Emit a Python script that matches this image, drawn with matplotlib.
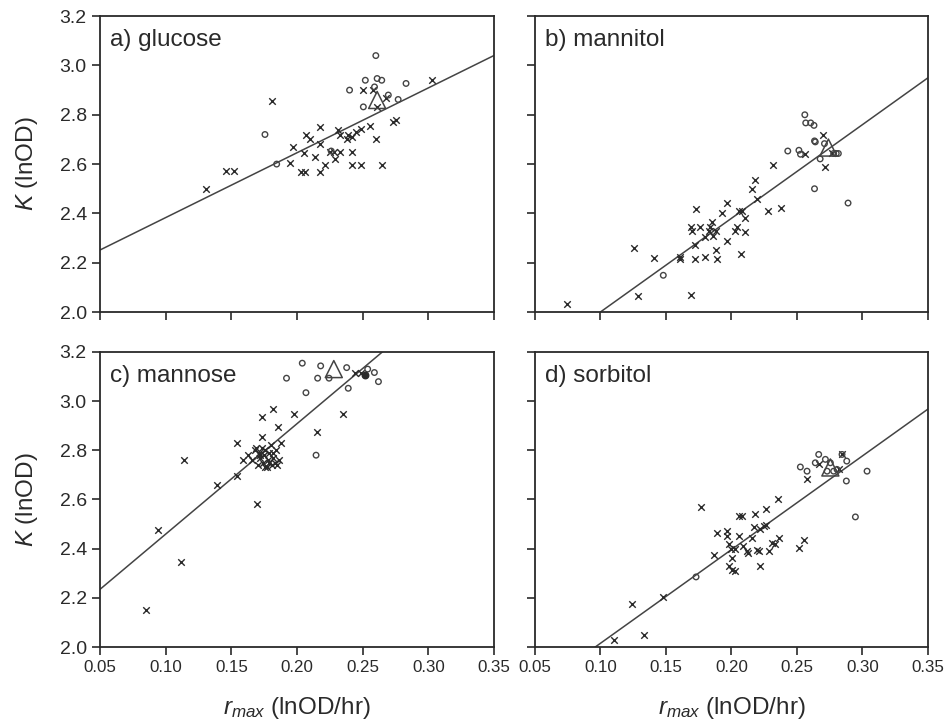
import numpy as np
import matplotlib
matplotlib.use('Agg')
import matplotlib.pyplot as plt

plt.rcParams['font.family'] = ['Liberation Sans', 'DejaVu Sans']
plt.rcParams['mathtext.fontset'] = 'custom'
plt.rcParams['mathtext.it'] = 'Liberation Sans:italic'
plt.rcParams['mathtext.rm'] = 'Liberation Sans'

panel_titles = ['a) glucose', 'b) mannitol', 'c) mannose', 'd) sorbitol']
x_ticks = [0.05, 0.10, 0.15, 0.20, 0.25, 0.30, 0.35]
y_ticks = [2.0, 2.2, 2.4, 2.6, 2.8, 3.0, 3.2]

# fitted line per panel: (intercept at r=0, slope)
fit_lines = [(2.12, 2.63), (1.62, 3.80), (2.01, 4.49), (1.634, 3.81)]

# a) glucose
glu_cross_r = [0.131, 0.146, 0.152, 0.181, 0.197, 0.195, 0.203, 0.206, 0.207, 0.210,
               0.205, 0.214, 0.2175, 0.2175, 0.2175, 0.221, 0.225, 0.228, 0.229, 0.231,
               0.233, 0.233, 0.239, 0.242, 0.242, 0.242, 0.249, 0.249, 0.2556, 0.260,
               0.265, 0.273, 0.275, 0.3025, 0.2505, 0.258, 0.261, 0.268, 0.245, 0.238]
glu_cross_k = [2.50, 2.57, 2.57, 2.855, 2.67, 2.605, 2.568, 2.568, 2.717, 2.70,
               2.645, 2.63, 2.749, 2.68, 2.568, 2.595, 2.65, 2.65, 2.62, 2.74,
               2.717, 2.65, 2.717, 2.71, 2.65, 2.595, 2.595, 2.744, 2.753, 2.70,
               2.595, 2.77, 2.778, 2.94, 2.90, 2.90, 2.83, 2.87, 2.73, 2.70]
glu_circ_r = [0.260, 0.252, 0.261, 0.2645, 0.240, 0.259, 0.283, 0.277, 0.2505, 0.2695,
              0.1756, 0.1845, 0.226]
glu_circ_k = [3.04, 2.94, 2.947, 2.94, 2.90, 2.913, 2.927, 2.862, 2.832, 2.88,
              2.72, 2.60, 2.653]
glu_tri = (0.261, 2.86)

# b) mannitol
man_cross_r = [0.0749, 0.1256, 0.1286, 0.1408, 0.161, 0.161, 0.1695, 0.172, 0.172, 0.1733,
               0.169, 0.170, 0.1763, 0.180, 0.180, 0.183, 0.184, 0.185, 0.186, 0.188,
               0.188, 0.189, 0.193, 0.1966, 0.1966, 0.203, 0.204, 0.2055, 0.208, 0.210,
               0.207, 0.210, 0.2157, 0.218, 0.2195, 0.228, 0.2316, 0.2377, 0.2563, 0.270,
               0.2715, 0.277]
man_cross_k = [2.031, 2.261, 2.063, 2.220, 2.225, 2.216, 2.069, 2.216, 2.27, 2.419,
               2.345, 2.33, 2.345, 2.223, 2.304, 2.33, 2.345, 2.365, 2.31, 2.33,
               2.25, 2.216, 2.40, 2.442, 2.29, 2.33, 2.345, 2.41, 2.41, 2.38,
               2.237, 2.325, 2.50, 2.534, 2.46, 2.41, 2.595, 2.423, 2.64, 2.717,
               2.588, 2.643]
man_circ_r = [0.148, 0.243, 0.256, 0.2605, 0.263, 0.2567, 0.2634, 0.2640, 0.271, 0.2515,
              0.2527, 0.2677, 0.278, 0.280, 0.2816, 0.2634, 0.289]
man_circ_k = [2.149, 2.653, 2.80, 2.767, 2.757, 2.767, 2.694, 2.690, 2.683, 2.656,
              2.64, 2.621, 2.643, 2.643, 2.643, 2.50, 2.442]
man_tri = (0.274, 2.667)

# c) mannose
mno_cross_r = [0.0848, 0.0944, 0.112, 0.1142, 0.1393, 0.154, 0.154, 0.159, 0.1695, 0.173,
               0.1815, 0.1858, 0.198, 0.1736, 0.188, 0.215, 0.2353, 0.244, 0.249,
               0.163, 0.166, 0.168, 0.170, 0.171, 0.172, 0.173, 0.174, 0.175, 0.176,
               0.177, 0.178, 0.179, 0.180, 0.181, 0.182, 0.183, 0.184, 0.186, 0.169,
               0.172, 0.176, 0.179, 0.182, 0.185]
mno_cross_k = [2.152, 2.475, 2.346, 2.76, 2.658, 2.828, 2.696, 2.76, 2.581, 2.934,
               2.966, 2.896, 2.948, 2.855, 2.828, 2.876, 2.948, 3.116, 3.116,
               2.78, 2.76, 2.80, 2.74, 2.79, 2.77, 2.81, 2.75, 2.78, 2.80,
               2.73, 2.76, 2.79, 2.82, 2.74, 2.77, 2.75, 2.80, 2.76, 2.81,
               2.78, 2.73, 2.75, 2.79, 2.74]
mno_circ_r = [0.192, 0.204, 0.2068, 0.218, 0.2157, 0.2244, 0.2378, 0.239, 0.2145, 0.2538,
              0.2589, 0.262]
mno_circ_k = [3.093, 3.154, 3.034, 3.143, 3.093, 3.093, 3.136, 3.052, 2.78, 3.13,
              3.116, 3.079]
mno_filled = (0.2518, 3.106)
mno_tri = (0.228, 3.13)

# d) sorbitol
sor_cross_r = [0.1103, 0.124, 0.133, 0.1476, 0.177, 0.1865, 0.189, 0.1967, 0.1967, 0.198,
               0.200, 0.203, 0.198, 0.2005, 0.203, 0.2005, 0.2056, 0.208, 0.2056, 0.209,
               0.212, 0.213, 0.2158, 0.2183, 0.217, 0.2196, 0.221, 0.2216, 0.222, 0.2247,
               0.226, 0.2267, 0.229, 0.231, 0.2336, 0.236, 0.2356, 0.2514, 0.2557, 0.2577,
               0.2666, 0.2844, 0.282]
sor_cross_k = [2.03, 2.175, 2.05, 2.204, 2.569, 2.376, 2.464, 2.471, 2.45, 2.417,
               2.40, 2.40, 2.329, 2.315, 2.308, 2.362, 2.532, 2.532, 2.45, 2.41,
               2.39, 2.383, 2.444, 2.539, 2.49, 2.396, 2.39, 2.331, 2.478, 2.492,
               2.498, 2.562, 2.39, 2.424, 2.417, 2.444, 2.603, 2.403, 2.437, 2.684,
               2.743, 2.783, 2.722]
sor_circ_r = [0.173, 0.2526, 0.2577, 0.2666, 0.264, 0.2717, 0.2755, 0.273, 0.278, 0.2806,
              0.2844, 0.288, 0.2877, 0.3035, 0.2946]
sor_circ_k = [2.285, 2.732, 2.715, 2.783, 2.749, 2.763, 2.749, 2.715, 2.715, 2.722,
              2.783, 2.756, 2.675, 2.715, 2.529]
sor_tri = (0.2755, 2.73)

panels = [
    (glu_cross_r, glu_cross_k, glu_circ_r, glu_circ_k, glu_tri, None),
    (man_cross_r, man_cross_k, man_circ_r, man_circ_k, man_tri, None),
    (mno_cross_r, mno_cross_k, mno_circ_r, mno_circ_k, mno_tri, mno_filled),
    (sor_cross_r, sor_cross_k, sor_circ_r, sor_circ_k, sor_tri, None),
]

ink = '#2a2a2a'
fig = plt.figure(figsize=(9.45, 7.27), dpi=100)
boxes = [(0.1058, 0.5708, 0.417, 0.407), (0.566, 0.5708, 0.416, 0.407),
         (0.1058, 0.110, 0.417, 0.406), (0.566, 0.110, 0.416, 0.406)]

for i, (cr, ck, orr, ok, tri, filled) in enumerate(panels):
    ax = fig.add_axes(boxes[i])
    ax.set_xlim(0.05, 0.35)
    ax.set_ylim(2.0, 3.2)

    # regression line over the whole x range
    xs = np.array([0.05, 0.35])
    b0, b1 = fit_lines[i]
    ax.plot(xs, b0 + b1 * xs, color='#444444', lw=1.1, zorder=2)

    ax.scatter(cr, ck, marker='x', s=22, color=ink, linewidths=1.0, zorder=3)
    ax.scatter(orr, ok, marker='o', s=16, facecolors='none', edgecolors='#444444',
               linewidths=1.0, zorder=3)
    ax.scatter([tri[0]], [tri[1]], marker='^', s=150, facecolors='none',
               edgecolors='#444444', linewidths=1.1, zorder=4)
    if filled is not None:
        ax.scatter([filled[0]], [filled[1]], marker='o', s=22, color=ink, zorder=4)

    ax.text(0.025, 0.955, panel_titles[i], transform=ax.transAxes, ha='left', va='top',
            fontsize=17.5, color=ink)

    ax.set_xticks(x_ticks)
    ax.set_yticks(y_ticks)
    ax.tick_params(direction='out', length=6, width=1.2, colors=ink, labelsize=14)
    ax.tick_params(axis='x', labelsize=12.2)
    for sp in ax.spines.values():
        sp.set_linewidth(1.3)
        sp.set_color(ink)

    if i < 2:
        ax.tick_params(labelbottom=False)
    else:
        ax.set_xticklabels(['%.2f' % v for v in x_ticks])
        ax.set_xlabel(r'$r_{max}$ (lnOD/hr)', fontsize=17.5, color=ink, labelpad=14)
    if i % 2 == 1:
        ax.tick_params(labelleft=False)
    else:
        ax.set_yticklabels(['%.1f' % v for v in y_ticks])
        ax.set_ylabel(r'$K$ (lnOD)', fontsize=17.5, color=ink, labelpad=14)

fig.savefig('out.png', dpi=100)
